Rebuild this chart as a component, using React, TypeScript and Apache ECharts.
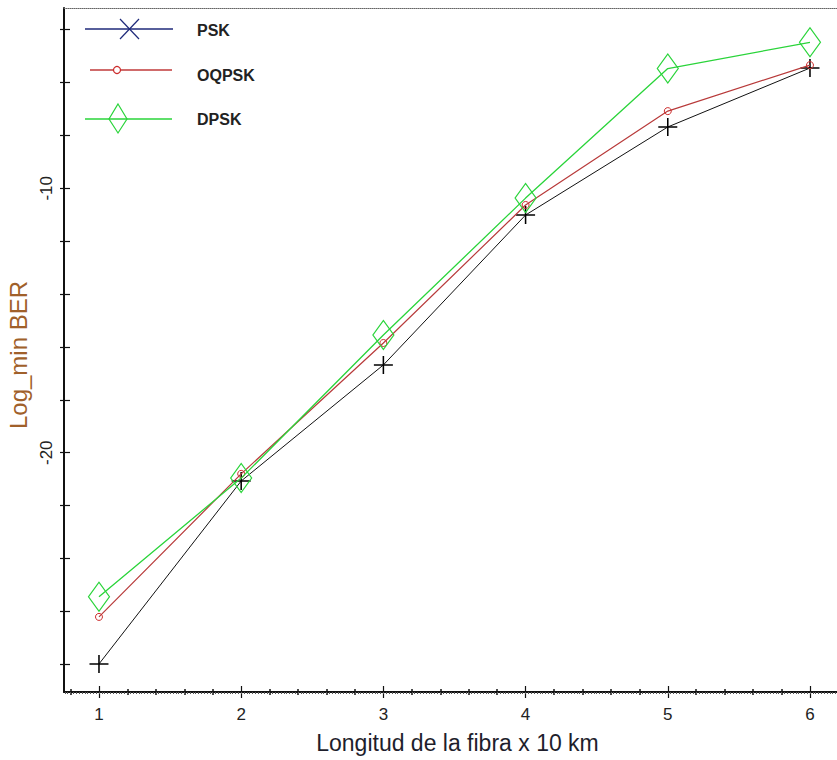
import React, { useEffect, useRef } from "react";
import * as echarts from "echarts";

// ---- data ----
const X_VALUES = [1, 2, 3, 4, 5, 6];
const PSK = [-27.99, -21.07, -16.68, -11.01, -7.68, -5.45];
const OQPSK = [-26.21, -20.8, -15.85, -10.63, -7.08, -5.34];
const DPSK = [-25.45, -20.96, -15.55, -10.37, -5.47, -4.48];

const X_TICK_LABELS = [1, 2, 3, 4, 5, 6];
const Y_TICK_LABELS = [-20, -10];
const Y_TICKS = [-28, -26, -24, -22, -20, -18, -16, -14, -12, -10, -8, -6, -4];

const X_MIN = 0.754;
const X_MAX = 6.19;
const Y_MIN = -29.05;
const Y_MAX = -3.18;

const FONT = "'Liberation Sans', Arial, sans-serif";

function stepValues(from: number, to: number, step: number): number[] {
  const out: number[] = [];
  const n = Math.round((to - from) / step);
  for (let i = 0; i <= n; i++) out.push(Math.round((from + i * step) * 1000) / 1000);
  return out;
}
const X_MINOR = stepValues(0.8, 6.0, 0.2).filter((v) => Math.abs(v - Math.round(v)) > 1e-6);
const X_HATCH = stepValues(0.76, 6.18, 0.02);

const pairs = (ys: number[]) => X_VALUES.map((x, i) => [x, ys[i]]);

export default function App() {
  const ref = useRef<HTMLDivElement>(null);
  useEffect(() => {
    if (!ref.current) return;
    const chart = echarts.init(ref.current, null, { renderer: "svg" });

    const baseX = {
      type: "value",
      min: X_MIN,
      max: X_MAX,
      position: "bottom",
      splitLine: { show: false },
      axisLabel: { show: false },
      axisLine: { show: false, onZero: false },
    };

    const option: any = {
      animation: false,
      backgroundColor: "#ffffff",
      grid: { left: 64, top: 8, right: 0, bottom: 68, containLabel: false, outerBoundsMode: "none" },
      xAxis: [
        {
          ...baseX,
          axisLine: { show: true, onZero: false, lineStyle: { color: "#111", width: 2 } },
          axisTick: { show: true, customValues: X_TICK_LABELS, length: 6, lineStyle: { color: "#111", width: 1.2 } },
          axisLabel: {
            show: true,
            customValues: X_TICK_LABELS,
            fontSize: 17,
            fontFamily: FONT,
            color: "#222",
            margin: 14,
          },
          name: "Longitud de la fibra x 10 km",
          nameLocation: "middle",
          nameGap: 39,
          nameTextStyle: { fontSize: 23, fontFamily: FONT, color: "#1e1e2c", padding: [0, 0, 0, 14] },
        },
        {
          ...baseX,
          axisTick: { show: true, inside: true, customValues: X_TICK_LABELS, length: 6, lineStyle: { color: "#111", width: 1.2 } },
        },
        {
          ...baseX,
          axisTick: { show: true, customValues: X_MINOR, length: 3, lineStyle: { color: "#111", width: 1.5 } },
        },
        {
          ...baseX,
          axisTick: { show: true, inside: true, customValues: X_MINOR, length: 3, lineStyle: { color: "#111", width: 1.5 } },
        },
        {
          ...baseX,
          axisTick: { show: true, customValues: X_HATCH, length: 2, lineStyle: { color: "#555", width: 1 } },
        },
        {
          ...baseX,
          position: "top",
          axisLine: { show: true, onZero: false, lineStyle: { color: "#666", width: 1, type: [1, 1] } },
          axisTick: { show: false },
        },
      ],
      yAxis: [
        {
          type: "value",
          min: Y_MIN,
          max: Y_MAX,
          position: "left",
          splitLine: { show: false },
          axisLine: { show: true, onZero: false, lineStyle: { color: "#111", width: 2 } },
          axisTick: { show: true, customValues: Y_TICKS, length: 4, lineStyle: { color: "#111", width: 1.2 } },
          axisLabel: {
            show: true,
            customValues: Y_TICK_LABELS,
            rotate: 90,
            fontSize: 17,
            fontFamily: FONT,
            color: "#222",
            margin: 9,
          },
          name: "Log_min BER",
          nameLocation: "middle",
          nameRotate: 90,
          nameGap: 28,
          nameTextStyle: { fontSize: 24, fontFamily: FONT, color: "#a0602a", padding: [0, 10, 0, 0] },
        },
        {
          type: "value",
          min: Y_MIN,
          max: Y_MAX,
          position: "left",
          splitLine: { show: false },
          axisLine: { show: false, onZero: false },
          axisTick: { show: true, inside: true, customValues: Y_TICKS, length: 6, lineStyle: { color: "#111", width: 1.2 } },
          axisLabel: { show: false },
        },
      ],
      series: [
        {
          name: "PSK",
          type: "line",
          xAxisIndex: 0,
          yAxisIndex: 0,
          data: pairs(PSK),
          symbol: "path://M10,0 L10,20 M0,10 L20,10",
          symbolSize: [19, 18],
          itemStyle: { color: "none", borderColor: "#000", borderWidth: 1.5 },
          lineStyle: { color: "#111", width: 1 },
          z: 3,
        },
        {
          name: "OQPSK",
          type: "line",
          xAxisIndex: 0,
          yAxisIndex: 0,
          data: pairs(OQPSK),
          symbol: "circle",
          symbolSize: 7,
          itemStyle: { color: "none", borderColor: "#cc2a2a", borderWidth: 1 },
          lineStyle: { color: "#b83a3a", width: 1.2 },
          z: 4,
        },
        {
          name: "DPSK",
          type: "line",
          xAxisIndex: 0,
          yAxisIndex: 0,
          data: pairs(DPSK),
          symbol: "diamond",
          symbolSize: [21, 29],
          itemStyle: { color: "none", borderColor: "#2ad43a", borderWidth: 1.2 },
          lineStyle: { color: "#2ad43a", width: 1.3 },
          z: 5,
        },
      ],
      graphic: [
        // PSK legend entry
        { type: "line", shape: { x1: 85, y1: 29, x2: 173, y2: 29 }, style: { stroke: "#1f2a7a", lineWidth: 1.3 } },
        { type: "line", shape: { x1: 120, y1: 19, x2: 139, y2: 39 }, style: { stroke: "#1f2a7a", lineWidth: 1.2 } },
        { type: "line", shape: { x1: 139, y1: 19, x2: 120, y2: 39 }, style: { stroke: "#1f2a7a", lineWidth: 1.2 } },
        {
          type: "text",
          x: 197,
          y: 30,
          style: { text: "PSK", font: `bold 16px ${FONT}`, fill: "#222", verticalAlign: "middle" },
        },
        // OQPSK legend entry
        { type: "line", shape: { x1: 90, y1: 70, x2: 172, y2: 70 }, style: { stroke: "#c03a3a", lineWidth: 1.3 } },
        { type: "circle", shape: { cx: 117, cy: 70, r: 3.5 }, style: { stroke: "#cc2a2a", fill: "#fff", lineWidth: 1.2 } },
        {
          type: "text",
          x: 197,
          y: 75,
          style: { text: "OQPSK", font: `bold 16px ${FONT}`, fill: "#222", verticalAlign: "middle" },
        },
        // DPSK legend entry
        { type: "line", shape: { x1: 85, y1: 119, x2: 172, y2: 119 }, style: { stroke: "#2ad43a", lineWidth: 1.3 } },
        {
          type: "polygon",
          shape: { points: [[118, 104], [127, 119], [118, 133], [109, 119]] },
          style: { stroke: "#2ad43a", fill: "none", lineWidth: 1.2 },
        },
        {
          type: "text",
          x: 197,
          y: 119,
          style: { text: "DPSK", font: `bold 16px ${FONT}`, fill: "#222", verticalAlign: "middle" },
        },
      ],
    };

    chart.setOption(option);
    return () => chart.dispose();
  }, []);

  return (
    <div
      ref={ref}
      style={{ position: "fixed", left: 0, top: 0, width: 837, height: 760, background: "#fff" }}
    />
  );
}
